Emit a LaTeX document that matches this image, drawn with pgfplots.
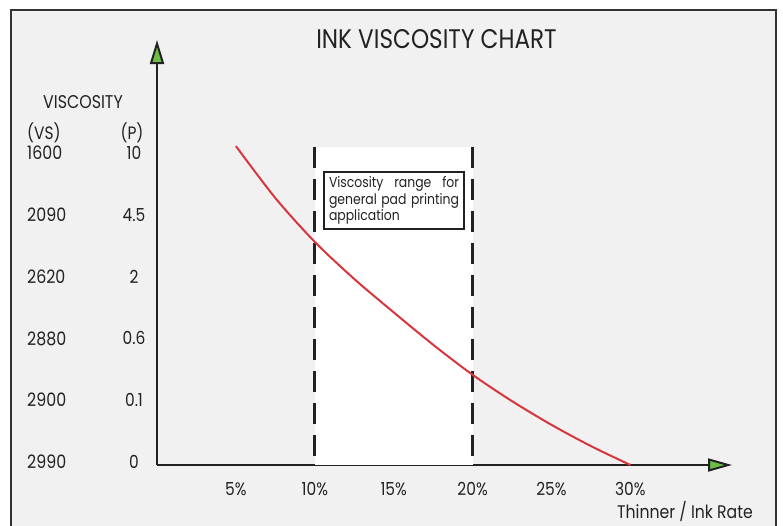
\documentclass[border=0pt]{standalone}
\usepackage{fontspec}
\setmainfont{Poppins}[FakeStretch=0.86]
\usepackage{pgfplots}
\pgfplotsset{compat=1.18}
\usetikzlibrary{arrows.meta}
\definecolor{BgGray}{HTML}{F1F1F1}
\definecolor{FrameGray}{HTML}{333333}
\definecolor{AxisBlack}{HTML}{222222}
\definecolor{CurveRed}{HTML}{D7363E}
\definecolor{ArrowGreen}{HTML}{6DBE45}

\begin{document}
\begin{tikzpicture}[x=1bp,y=1bp]
    \clip (0,0) rectangle (783,-526);
    \fill[white] (0,0) rectangle (783,-526);
    % panel and frame
    \fill[BgGray] (11,-10) rectangle (776,-540);
    \draw[FrameGray, line width=2.2bp] (11,-540) -- (11,-10) -- (776,-10) -- (776,-540);

    \begin{axis}[
        at={(157bp,-465bp)}, anchor=origin,
        width=575bp, height=425bp, scale only axis,
        xmin=0, xmax=36.44,
        ymin=0, ymax=6.877,
        clip=false,
        axis x line=bottom, axis y line=left,
        axis line style={AxisBlack, line width=2bp},
        x axis line style={-{Triangle[length=24bp,width=13bp,fill=ArrowGreen]}},
        y axis line style={-{Triangle[length=24bp,width=14bp,fill=ArrowGreen]}},
        major tick length=0pt,
        xtick={5,10,15,20,25,30},
        xticklabels={5\%,10\%,15\%,20\%,25\%,30\%},
        xticklabel style={anchor=center, yshift=-24bp, font=\fontsize{18}{20}\selectfont, text=AxisBlack},
        ytick={0,1,2,3,4,5},
        yticklabels={0,0.1,0.6,2,4.5,10},
        yticklabel style={anchor=center, xshift=-23bp, yshift=3bp, font=\fontsize{18}{20}\selectfont, text=AxisBlack},
    ]
    % recommended range band
    \addplot[fill=white, draw=none] coordinates {(10,0) (10,5.15) (20,5.15) (20,0)} -- cycle;
    \addplot[AxisBlack, line width=3bp, dash pattern=on 21bp off 11bp] coordinates {(10,5.15) (10,0.15)};
    \addplot[AxisBlack, line width=3bp, dash pattern=on 21bp off 11bp] coordinates {(20,5.15) (20,0.15)};

    % viscosity curve
    \addplot[CurveRed, line width=2bp, smooth] coordinates {
        (5,5.16) (7.5,4.32) (10,3.61) (12.5,3.01) (15,2.47) (17.5,1.946)
        (20,1.46) (22.5,1.033) (25,0.65) (27.5,0.306) (30,0)};
    \end{axis}

    % texts
    \node[anchor=base, text=AxisBlack, font=\fontsize{27}{30}\selectfont, inner sep=0pt] at (436.5,-49) {INK VISCOSITY CHART};
    \node[anchor=base, text=AxisBlack, font=\fontsize{18.5}{20}\selectfont, inner sep=0pt] at (83,-109) {VISCOSITY};
    \node[anchor=base west, text=AxisBlack, font=\fontsize{18}{20}\selectfont, inner sep=0pt] at (27,-140) {(VS)};
    \node[anchor=base, text=AxisBlack, font=\fontsize{18}{20}\selectfont, inner sep=0pt] at (132,-140) {(P)};
    \foreach \v/\yy in {1600/153, 2090/215, 2620/277, 2880/339, 2900/400, 2990/462}
        \node[anchor=west, text=AxisBlack, font=\fontsize{18.5}{20}\selectfont, inner sep=0pt] at (27,-\yy) {\v};
    \node[anchor=base west, text=AxisBlack, font=\fontsize{18.3}{20}\selectfont, inner sep=0pt] at (617,-518) {Thinner / Ink Rate};

    \node[draw=AxisBlack, line width=2bp, fill=white, text width=130bp, inner sep=5bp,
          align=justify, text=AxisBlack, font=\fontsize{14.5}{16.5}\selectfont] at (394,-200.5)
        {Viscosity range for\linebreak general pad printing\linebreak application};
\end{tikzpicture}
\end{document}
